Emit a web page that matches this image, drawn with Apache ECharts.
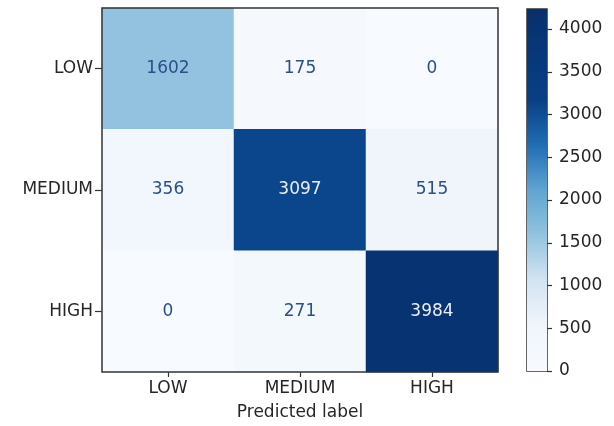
<!DOCTYPE html>
<html>
<head>
<meta charset="utf-8">
<script src="https://cdn.jsdelivr.net/npm/echarts@6/dist/echarts.min.js"></script>
<style>
  html, body { margin: 0; padding: 0; background: #fff; }
  #chart { width: 614px; height: 426px; }
</style>
</head>
<body>
<div id="chart"></div>
<script>
// Class labels (rows = true label, columns = predicted label)
const classes = ['LOW', 'MEDIUM', 'HIGH'];

// Confusion matrix counts, one array per true class
const rowLow = [1602, 175, 0];
const rowMedium = [356, 3097, 515];
const rowHigh = [0, 271, 3984];

// Colour bar range and tick step
const colorbarMax = 4234;
const colorbarStep = 500;

// Blues-style ramp used for both cells and colour bar
const blues = ['#f7fbff', '#f0f5fc', '#d3e4f3', '#93c3df', '#5fa5d1',
               '#1f6db3', '#083f85', '#08377a', '#08306b'];

const rows = [rowLow, rowMedium, rowHigh];
const maxVal = Math.max(...rows.flat());
const minVal = Math.min(...rows.flat());
const threshold = (maxVal + minVal) / 2;

const cells = [];
rows.forEach((row, r) => {
  row.forEach((v, c) => {
    cells.push({
      value: [c, r, v],
      label: { color: v > threshold ? '#e8eef6' : '#2b4f86' }
    });
  });
});

const font = 'DejaVu Sans';
const chart = echarts.init(document.getElementById('chart'));

chart.setOption({
  animation: false,
  backgroundColor: '#ffffff',
  textStyle: { fontFamily: font },
  grid: [
    { left: 102, right: 116, top: 8, bottom: 54, show: true,
      borderColor: '#333', borderWidth: 1.5, backgroundColor: 'transparent', z: 10 },
    { left: 527, width: 20, top: 9, bottom: 55, show: true,
      borderColor: '#333', borderWidth: 1.5, backgroundColor: 'transparent' }
  ],
  xAxis: [
    {
      type: 'category', gridIndex: 0, data: classes,
      name: 'Predicted label', nameLocation: 'middle', nameGap: 32,
      nameTextStyle: { fontSize: 17, color: '#262626', fontFamily: font },
      axisLine: { show: false },
      axisTick: { show: true, alignWithLabel: true, length: 5, lineStyle: { color: '#333', width: 1.2 } },
      axisLabel: { fontSize: 17, color: '#262626', margin: 8, fontFamily: font },
      splitLine: { show: false }
    },
    {
      type: 'category', gridIndex: 1, data: ['scale'],
      show: false
    }
  ],
  yAxis: [
    {
      type: 'category', gridIndex: 0, data: classes, inverse: true,
      axisLine: { show: false },
      axisTick: { show: true, alignWithLabel: true, length: 7, lineStyle: { color: '#333', width: 1.2 } },
      axisLabel: { fontSize: 17, color: '#262626', margin: 9, fontFamily: font },
      splitLine: { show: false }
    },
    {
      type: 'value', gridIndex: 1, position: 'right',
      min: 0, max: colorbarMax, interval: colorbarStep,
      axisLine: { show: false },
      axisTick: { show: true, length: 5, lineStyle: { color: '#333', width: 1.2 } },
      axisLabel: {
        fontSize: 17, color: '#262626', margin: 12, fontFamily: font, showMaxLabel: false,
        formatter: v => (v % colorbarStep !== 0) ? '' : String(v)
      },
      splitLine: { show: false }
    }
  ],
  visualMap: {
    show: false, type: 'continuous', seriesIndex: 0,
    min: 0, max: colorbarMax, dimension: 2,
    inRange: { color: blues }
  },
  series: [
    {
      type: 'heatmap', xAxisIndex: 0, yAxisIndex: 0,
      data: cells,
      label: { show: true, fontSize: 17, fontFamily: font },
      itemStyle: { borderWidth: 0 }
    },
    {
      type: 'bar', xAxisIndex: 1, yAxisIndex: 1,
      data: [colorbarMax], barWidth: '100%', silent: true,
      itemStyle: {
        color: new echarts.graphic.LinearGradient(0, 1, 0, 0,
          blues.map((c, i) => ({ offset: i / (blues.length - 1), color: c })))
      }
    }
  ]
});
</script>
</body>
</html>
